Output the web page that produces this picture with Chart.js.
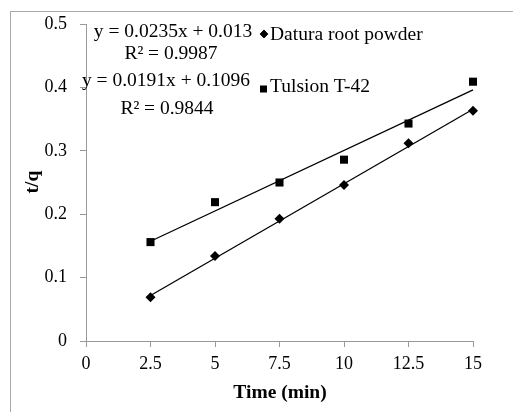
<!DOCTYPE html>
<html>
<head>
<meta charset="utf-8">
<script src="https://cdn.jsdelivr.net/npm/chart.js@4"></script>
<style>
  html, body { margin: 0; padding: 0; background: #fff; }
  canvas { display: block; }
</style>
</head>
<body>
<canvas id="grafica" width="513" height="412"></canvas>
<script>
// datos
const tiempos = [2.5, 5, 7.5, 10, 12.5, 15];
const datura = [0.069, 0.134, 0.193, 0.246, 0.312, 0.363];
const tulsion = [0.156, 0.219, 0.250, 0.286, 0.343, 0.409];

// lineas de tendencia (pendiente, ordenada) segun las ecuaciones
const daturaFit = [0.0235, 0.013];
const tulsionFit = [0.0191, 0.1096];
const rangoFit = [2.5, 15];

const xTicks = [0, 2.5, 5, 7.5, 10, 12.5, 15];
const xTickLabels = ['0', '2.5', '5', '7.5', '10', '12.5', '15'];
const yTicks = [0, 0.1, 0.2, 0.3, 0.4, 0.5];
const yTickLabels = ['0', '0.1', '0.2', '0.3', '0.4', '0.5'];

const nombres = ['Datura root powder', 'Tulsion T-42'];
const ecuaciones = [
    ['y = 0.0235x + 0.013', 'R\u00b2 = 0.9987'],
    ['y = 0.0191x + 0.1096', 'R\u00b2 = 0.9844']
];

const serif = '"Liberation Serif", "Times New Roman", serif';
const gris = '#999999';

function puntos(ys) {
    return tiempos.map((t, i) => ({ x: t, y: ys[i] }));
}
function recta(fit) {
    return rangoFit.map(t => ({ x: t, y: fit[0] * t + fit[1] }));
}

const extras = {
    id: 'extras',
    beforeDraw(chart) {
        const ctx = chart.ctx;
        ctx.save();
        ctx.strokeStyle = '#aaaaaa';
        ctx.lineWidth = 1;
        ctx.strokeRect(10.5, 11.5, 700, 700);
        ctx.restore();
    },
    afterDraw(chart) {
        const ctx = chart.ctx;
        ctx.save();
        ctx.fillStyle = '#000';

        // titulos de ejes
        ctx.font = 'bold 19.5px ' + serif;
        ctx.textAlign = 'center';
        ctx.textBaseline = 'middle';
        ctx.fillText('Time (min)', 280, 393);
        ctx.save();
        ctx.translate(33, 182);
        ctx.rotate(-Math.PI / 2);
        ctx.fillText('t/q', 0, 0);
        ctx.restore();

        // ecuaciones
        ctx.font = '19.5px ' + serif;
        ctx.textBaseline = 'alphabetic';
        ctx.fillText(ecuaciones[0][0], 173, 37);
        ctx.fillText(ecuaciones[0][1], 171, 59);
        ctx.fillText(ecuaciones[1][0], 166, 86);
        ctx.fillText(ecuaciones[1][1], 167, 114);

        // leyenda
        ctx.textAlign = 'left';
        ctx.fillText(nombres[0], 270, 40);
        ctx.fillText(nombres[1], 270, 92);
        Chart.helpers.drawPoint(ctx, { pointStyle: 'rectRot', radius: 4.2, rotation: 0, borderWidth: 0 }, 264, 34);
        ctx.fill();
        ctx.fillRect(260, 85.5, 7, 7);
        ctx.restore();
    }
};

const ctx = document.getElementById('grafica').getContext('2d');
const miGrafica = new Chart(ctx, {
    type: 'scatter',
    data: {
        datasets: [
            {
                label: nombres[0],
                data: puntos(datura),
                pointStyle: 'rectRot',
                pointRadius: 5,
                backgroundColor: '#000',
                borderColor: '#000',
                borderWidth: 0
            },
            {
                label: nombres[1],
                data: puntos(tulsion),
                pointStyle: 'rect',
                pointRadius: 5.7,
                backgroundColor: '#000',
                borderColor: '#000',
                borderWidth: 0
            },
            {
                label: 'fit1',
                data: recta(daturaFit),
                showLine: true,
                pointRadius: 0,
                borderColor: '#000',
                borderWidth: 1.3
            },
            {
                label: 'fit2',
                data: recta(tulsionFit),
                showLine: true,
                pointRadius: 0,
                borderColor: '#000',
                borderWidth: 1.3
            }
        ]
    },
    options: {
        responsive: false,
        animation: false,
        devicePixelRatio: 1,
        clip: false,
        layout: { padding: { left: 0, top: 24, right: 40, bottom: 0 } },
        plugins: {
            legend: { display: false },
            tooltip: { enabled: false }
        },
        scales: {
            x: {
                type: 'linear',
                min: 0,
                max: 15,
                afterFit: s => { s.height = 71; },
                afterBuildTicks: s => { s.ticks = xTicks.map(v => ({ value: v })); },
                grid: { drawOnChartArea: false, drawTicks: true, tickLength: 6, color: gris },
                border: { display: true, color: gris, width: 1 },
                ticks: {
                    autoSkip: false,
                    maxRotation: 0,
                    padding: 6,
                    color: '#000',
                    font: { family: serif, size: 18 },
                    callback: (v, i) => xTickLabels[i]
                }
            },
            y: {
                type: 'linear',
                min: 0,
                max: 0.5,
                afterFit: s => { s.width = 86; },
                afterBuildTicks: s => { s.ticks = yTicks.map(v => ({ value: v })); },
                grid: { drawOnChartArea: false, drawTicks: true, tickLength: 6, color: gris },
                border: { display: true, color: gris, width: 1 },
                ticks: {
                    autoSkip: false,
                    padding: 13,
                    color: '#000',
                    font: { family: serif, size: 18 },
                    callback: (v, i) => yTickLabels[i]
                }
            }
        }
    },
    plugins: [extras]
});
</script>
</body>
</html>
